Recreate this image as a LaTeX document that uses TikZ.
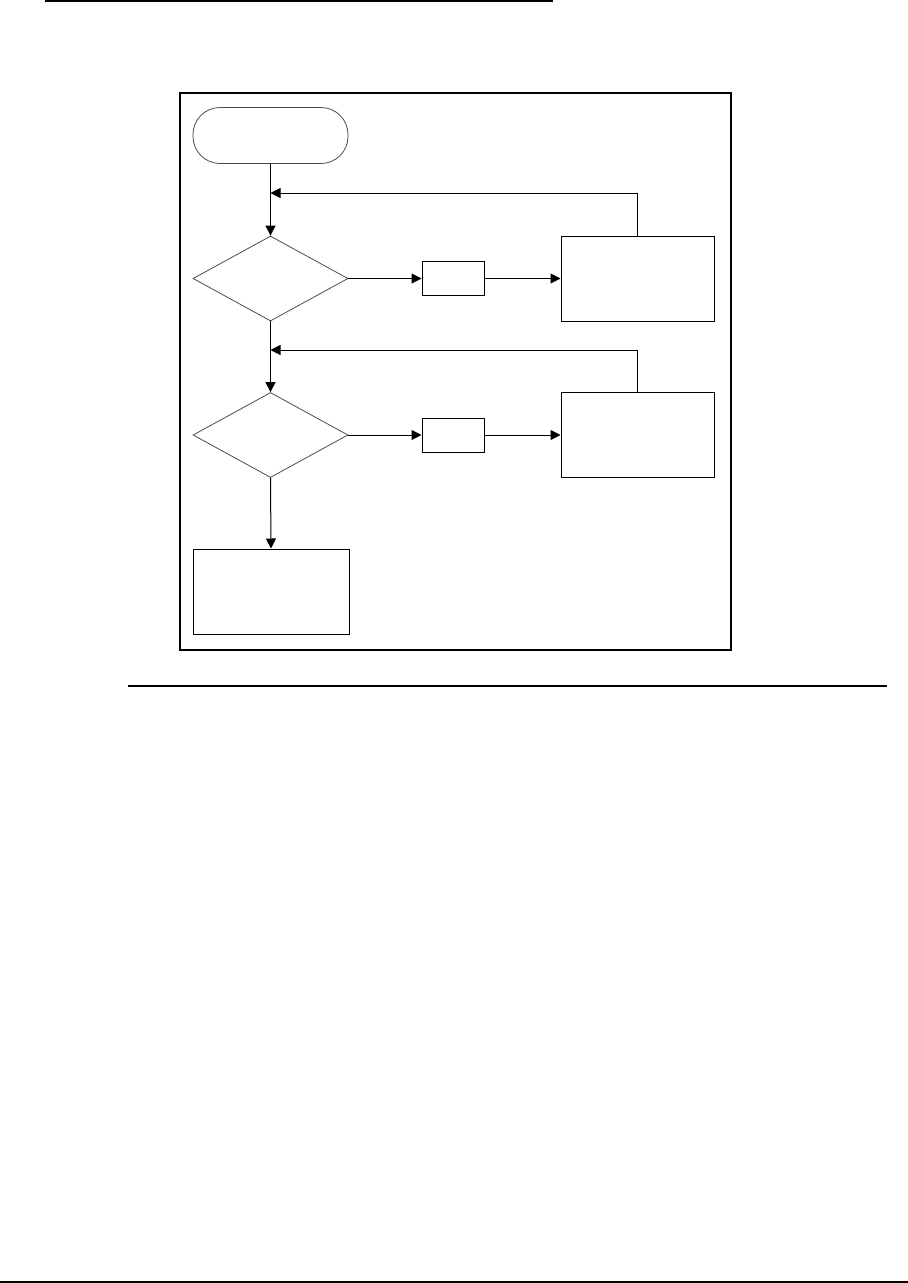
\documentclass[tikz,border=0pt]{standalone}
\usetikzlibrary{shapes.geometric,arrows.meta}
\begin{document}
\begin{tikzpicture}[x=1pt,y=-1pt,
  conn/.style={line width=1pt,draw=black,-{Triangle[length=10pt,width=10pt]}},
  termbox/.style={draw=black!70,line width=0.8pt,rounded corners=27pt,minimum width=155pt,minimum height=56pt,inner sep=0pt},
  decbox/.style={diamond,draw=black!70,line width=0.8pt,minimum width=155pt,minimum height=85pt,inner sep=0pt},
  smallbox/.style={draw=black,line width=1pt,minimum width=62pt,minimum height=34pt,inner sep=0pt},
  procbox/.style={draw=black,line width=1pt,minimum width=153pt,minimum height=85pt,inner sep=0pt},
  rule/.style={line width=2pt,draw=black}]
\useasboundingbox (0,0) rectangle (908,1283);
% page rules
\draw[rule] (45,1) -- (553,1);
\draw[line width=1.2pt] (128,686) -- (887,686);
\draw[rule] (0,1281.5) -- (908,1281.5);
% frame
\draw[rule] (180,93) rectangle (731,650);
% nodes
\node[termbox] (start) at (270.5,135.5) {};
\node[decbox] (d1) at (270.5,278.5) {};
\node[smallbox] (s1) at (453,278.5) {};
\node[procbox] (p1) at (637.5,278.5) {};
\node[decbox] (d2) at (270.5,435) {};
\node[smallbox] (s2) at (453,435) {};
\node[procbox] (p2) at (637.5,435) {};
\node[procbox,minimum width=156pt] (end) at (271,591.5) {};
% coordinates
\coordinate (j1) at (270.5,193);
\coordinate (j2) at (270.5,350);
% connectors
\draw[conn] (start.south) -- (d1.north);
\draw[conn] (p1.north) |- (j1);
\draw[conn] (d1.east) -- (s1.west);
\draw[conn] (s1.east) -- (p1.west);
\draw[conn] (d1.south) -- (d2.north);
\draw[conn] (p2.north) |- (j2);
\draw[conn] (d2.east) -- (s2.west);
\draw[conn] (s2.east) -- (p2.west);
\draw[conn] (d2.south) -- (end.north);
\end{tikzpicture}
\end{document}
